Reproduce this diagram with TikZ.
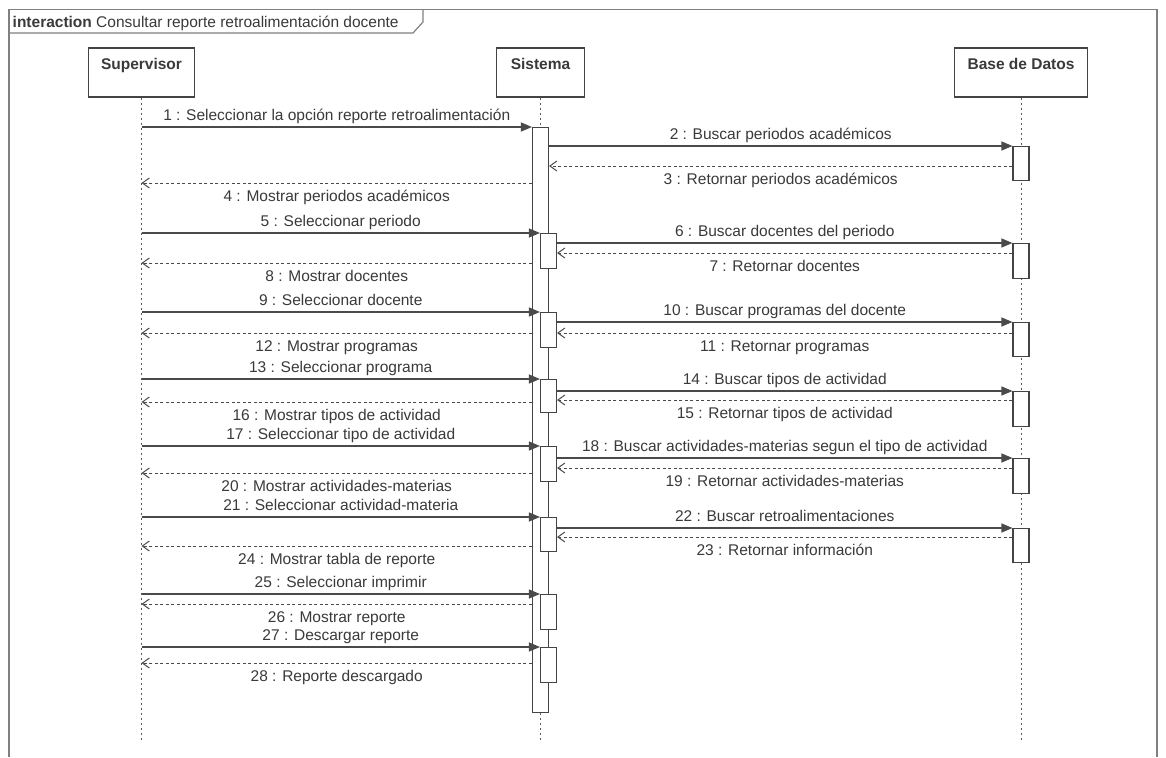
\documentclass[tikz,border=0pt]{standalone}
\usepackage{fontspec}
\setmainfont{Liberation Sans}
\usetikzlibrary{arrows.meta}
\definecolor{txt}{HTML}{3A3A3A}
\definecolor{boxc}{HTML}{444444}
\definecolor{linec}{HTML}{4A4A4A}
\definecolor{lifec}{HTML}{5A5A5A}
\definecolor{framec}{HTML}{808080}
\tikzset{
  lab/.style={font=\fontsize{15.5}{18}\selectfont, text=txt, inner sep=0pt},
  actor/.style={draw=boxc, line width=1.2pt, fill=white, minimum width=#1,
    inner xsep=0pt, inner ysep=0pt, text height=21.6pt, text depth=27.4pt,
    font=\fontsize{15.5}{18}\selectfont\bfseries, text=txt},
  bar/.style={draw=boxc, line width=1.1pt, fill=white, minimum width=16,
    inner sep=0pt, anchor=north},
  life/.style={draw=lifec, line width=1pt, dash pattern=on 2.5pt off 2.5pt},
  call/.style={draw=linec, line width=1.1pt, -{Triangle[length=11pt,width=9pt]}},
  ret/.style={draw=linec, line width=1pt, dash pattern=on 3pt off 2.5pt,
    -{Straight Barb[length=7pt,width=10pt]}},
  frm/.style={draw=framec, line width=1.2pt},
  up/.style={lab, midway, anchor=base, yshift=6.7pt},
  down/.style={lab, midway, anchor=base, yshift=-18pt}
}
\begin{document}
\begin{tikzpicture}[x=1pt,y=-1pt]
\useasboundingbox (0,0) rectangle (1166,757);
\fill[white] (0,0) rectangle (1166,757);
% frame
\draw[frm] (9,757) -- (9,9.5) -- (1157,9.5) -- (1157,757);
\draw[frm] (9,33) -- (413,33) -- (423,22) -- (423,9.5);
\node[lab, anchor=base west] (title) at (12.5,28) {\textbf{interaction} Consultar reporte retroalimentación docente};
% participants
\node[actor=106] (sup) at (141.5,72.5) {Supervisor};
\node[actor=88] (sis) at (540.5,72.5) {Sistema};
\node[actor=133] (db) at (1021,72.5) {Base de Datos};
% lifelines
\draw[life] (sup.south) -- (sup.south |- 0,740);
\draw[life] (sis.south) -- (sis.south |- 0,740);
\draw[life] (db.south) -- (db.south |- 0,740);
% activation bars
\node[bar, minimum height=585] (mb) at (540.5,127) {};
\node[bar, minimum height=35] (b1) at (548.5,233) {};
\node[bar, minimum height=35] (b2) at (548.5,312) {};
\node[bar, minimum height=33] (b3) at (548.5,379) {};
\node[bar, minimum height=35] (b4) at (548.5,446) {};
\node[bar, minimum height=34] (b5) at (548.5,517) {};
\node[bar, minimum height=35] (b6) at (548.5,594) {};
\node[bar, minimum height=35] (b7) at (548.5,647) {};
\node[bar, minimum height=34] (d1) at (1021,146) {};
\node[bar, minimum height=35] (d2) at (1021,243) {};
\node[bar, minimum height=34] (d3) at (1021,322) {};
\node[bar, minimum height=35] (d4) at (1021,391) {};
\node[bar, minimum height=35] (d5) at (1021,458) {};
\node[bar, minimum height=34] (d6) at (1021,528) {};
% messages Supervisor <-> Sistema
\draw[call] (sup |- 0,127) -- (mb.west |- 0,127) node[up] {1 : Seleccionar la opción reporte retroalimentación};
\draw[ret] (mb.west |- 0,183) -- (sup |- 0,183) node[down] {4 : Mostrar periodos académicos};
\draw[call] (sup |- 0,233) -- (b1.west |- 0,233) node[up] {5 : Seleccionar periodo};
\draw[ret] (mb.west |- 0,263) -- (sup |- 0,263) node[down] {8 : Mostrar docentes};
\draw[call] (sup |- 0,312) -- (b2.west |- 0,312) node[up] {9 : Seleccionar docente};
\draw[ret] (mb.west |- 0,333) -- (sup |- 0,333) node[down] {12 : Mostrar programas};
\draw[call] (sup |- 0,379) -- (b3.west |- 0,379) node[up] {13 : Seleccionar programa};
\draw[ret] (mb.west |- 0,402) -- (sup |- 0,402) node[down] {16 : Mostrar tipos de actividad};
\draw[call] (sup |- 0,446) -- (b4.west |- 0,446) node[up] {17 : Seleccionar tipo de actividad};
\draw[ret] (mb.west |- 0,473) -- (sup |- 0,473) node[down] {20 : Mostrar actividades-materias};
\draw[call] (sup |- 0,517) -- (b5.west |- 0,517) node[up] {21 : Seleccionar actividad-materia};
\draw[ret] (mb.west |- 0,546) -- (sup |- 0,546) node[down] {24 : Mostrar tabla de reporte};
\draw[call] (sup |- 0,594) -- (b6.west |- 0,594) node[up] {25 : Seleccionar imprimir};
\draw[ret] (mb.west |- 0,604) -- (sup |- 0,604) node[down] {26 : Mostrar reporte};
\draw[call] (sup |- 0,647) -- (b7.west |- 0,647) node[up] {27 : Descargar reporte};
\draw[ret] (mb.west |- 0,663) -- (sup |- 0,663) node[down] {28 : Reporte descargado};
% messages Sistema <-> Base de Datos
\draw[call] (mb.east |- 0,146) -- (d1.west |- 0,146) node[up] {2 : Buscar periodos académicos};
\draw[ret] (d1.west |- 0,166) -- (mb.east |- 0,166) node[down] {3 : Retornar periodos académicos};
\draw[call] (b1.east |- 0,243) -- (d2.west |- 0,243) node[up] {6 : Buscar docentes del periodo};
\draw[ret] (d2.west |- 0,253) -- (b1.east |- 0,253) node[down] {7 : Retornar docentes};
\draw[call] (b2.east |- 0,322) -- (d3.west |- 0,322) node[up] {10 : Buscar programas del docente};
\draw[ret] (d3.west |- 0,333) -- (b2.east |- 0,333) node[down] {11 : Retornar programas};
\draw[call] (b3.east |- 0,391) -- (d4.west |- 0,391) node[up] {14 : Buscar tipos de actividad};
\draw[ret] (d4.west |- 0,400) -- (b3.east |- 0,400) node[down] {15 : Retornar tipos de actividad};
\draw[call] (b4.east |- 0,458) -- (d5.west |- 0,458) node[up] {18 : Buscar actividades-materias segun el tipo de actividad};
\draw[ret] (d5.west |- 0,468) -- (b4.east |- 0,468) node[down] {19 : Retornar actividades-materias};
\draw[call] (b5.east |- 0,528) -- (d6.west |- 0,528) node[up] {22 : Buscar retroalimentaciones};
\draw[ret] (d6.west |- 0,537) -- (b5.east |- 0,537) node[down] {23 : Retornar información};
\end{tikzpicture}
\end{document}
